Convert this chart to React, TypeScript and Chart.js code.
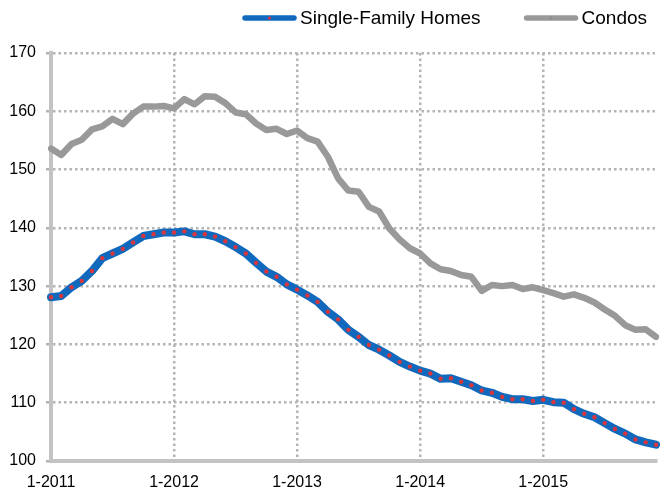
import React, { useEffect, useRef } from "react";
import { Chart, registerables } from "chart.js";

Chart.register(...registerables);

const years = [2011, 2012, 2013, 2014, 2015];
const monthLabels: string[] = [];
years.forEach((yr) => {
  for (let m = 1; m <= 12; m++) monthLabels.push(`${m}-${yr}`);
});

const singleFamily = [
  128.1, 128.3, 129.8, 130.9, 132.6, 134.8, 135.6, 136.4, 137.5, 138.6, 138.9, 139.2,
  139.2, 139.4, 138.9, 138.9, 138.5, 137.7, 136.7, 135.6, 134.0, 132.5, 131.6, 130.3,
  129.4, 128.4, 127.3, 125.6, 124.3, 122.5, 121.3, 119.9, 119.1, 118.1, 117.0, 116.2,
  115.5, 115.0, 114.1, 114.2, 113.6, 113.0, 112.1, 111.7, 111.0, 110.6, 110.6, 110.3,
  110.5, 110.1, 110.0, 108.9, 108.1, 107.5, 106.5, 105.5, 104.7, 103.7, 103.2, 102.8,
];

const condos = [
  153.6, 152.5, 154.4, 155.1, 156.9, 157.4, 158.7, 157.8, 159.6, 160.8, 160.8, 160.9,
  160.5, 162.1, 161.2, 162.6, 162.5, 161.4, 159.8, 159.5, 157.9, 156.8, 157.0, 156.1,
  156.7, 155.4, 154.8, 152.2, 148.5, 146.4, 146.2, 143.6, 142.8, 139.9, 138.0, 136.5,
  135.6, 133.9, 132.9, 132.6, 131.9, 131.6, 129.2, 130.2, 130.0, 130.2, 129.5, 129.8,
  129.3, 128.8, 128.2, 128.6, 128.0, 127.2, 126.0, 124.9, 123.3, 122.5, 122.6, 121.3,
];

const seriesNames = ["Single-Family Homes", "Condos"];
const yMin = 100;
const yMax = 170;
const yStep = 10;

const BLUE = "#1169be";
const RED = "#d8363c";
const GRAY = "#999999";
const GRID = "#b4b4b4";
const AXIS = "#c3c3c3";
const FONT = "'Liberation Sans', Arial, Helvetica, sans-serif";

const customLegend = {
  id: "customLegend",
  afterDraw(chart: any) {
    const ctx = chart.ctx as CanvasRenderingContext2D;
    ctx.save();
    ctx.font = `19px ${FONT}`;
    ctx.textBaseline = "middle";
    ctx.textAlign = "left";
    const y = 18;
    let x = 242;
    const sampleW = 55;
    chart.data.datasets.forEach((ds: any, i: number) => {
      ctx.lineCap = "round";
      ctx.strokeStyle = ds.borderColor;
      ctx.lineWidth = 5.5;
      ctx.beginPath();
      ctx.moveTo(x + 3, y);
      ctx.lineTo(x + sampleW - 3, y);
      ctx.stroke();
      ctx.fillStyle = i === 0 ? RED : "#8c8c8c";
      ctx.beginPath();
      ctx.arc(x + sampleW / 2, y, 1.6, 0, Math.PI * 2);
      ctx.fill();
      ctx.fillStyle = "#000";
      const tx = x + sampleW + 3;
      ctx.fillText(ds.label, tx, y + 1);
      x = tx + ctx.measureText(ds.label).width + 43;
    });
    ctx.restore();
  },
};

export default function App() {
  const ref = useRef<HTMLCanvasElement | null>(null);
  useEffect(() => {
    document.body.style.margin = "0";
    if (!ref.current) return;
    const chart = new Chart(ref.current, {
      type: "line",
      data: {
        labels: monthLabels,
        datasets: [
          {
            label: seriesNames[0],
            data: singleFamily,
            borderColor: BLUE,
            borderWidth: 8,
            pointRadius: 2.2,
            pointBackgroundColor: RED,
            pointBorderWidth: 0,
            tension: 0,
            borderJoinStyle: "round",
            borderCapStyle: "round",
          },
          {
            label: seriesNames[1],
            data: condos,
            borderColor: GRAY,
            borderWidth: 6.5,
            pointRadius: 0,
            tension: 0,
            borderJoinStyle: "round",
            borderCapStyle: "round",
          },
        ],
      },
      options: {
        responsive: false,
        animation: false,
        layout: { padding: { top: 53, right: 0, left: 0, bottom: 0 } },
        plugins: {
          legend: { display: false },
          tooltip: { enabled: false },
        },
        scales: {
          x: {
            type: "category",
            offset: false,
            grid: {
              color: (c: any) => (c.index % 12 === 0 ? GRID : "rgba(0,0,0,0)"),
              lineWidth: 2.5,
              drawTicks: false,
            },
            border: { display: true, color: AXIS, width: 4, dash: [2.5, 3] },
            ticks: {
              autoSkip: false,
              maxRotation: 0,
              minRotation: 0,
              padding: 12,
              color: "#000",
              font: { family: FONT, size: 16 },
              callback: (_v: any, idx: number) => (idx % 12 === 0 ? monthLabels[idx] : ""),
            },
            afterFit: (s: any) => {
              s.height = 32;
            },
          },
          y: {
            min: yMin,
            max: yMax,
            grid: {
              color: GRID,
              lineWidth: 2.5,
              tickLength: 5,
              tickColor: GRID,
              tickBorderDash: [],
            },
            border: { display: true, color: AXIS, width: 4, dash: [2.5, 3] },
            ticks: {
              stepSize: yStep,
              padding: 10,
              color: "#000",
              font: { family: FONT, size: 16 },
            },
            afterFit: (s: any) => {
              s.width = 51;
            },
          },
        },
      },
      plugins: [customLegend],
    });
    return () => chart.destroy();
  }, []);
  return (
    <div style={{ width: 668, height: 493 }}>
      <canvas ref={ref} width={668} height={493} style={{ display: "block", width: 668, height: 493 }} />
    </div>
  );
}
